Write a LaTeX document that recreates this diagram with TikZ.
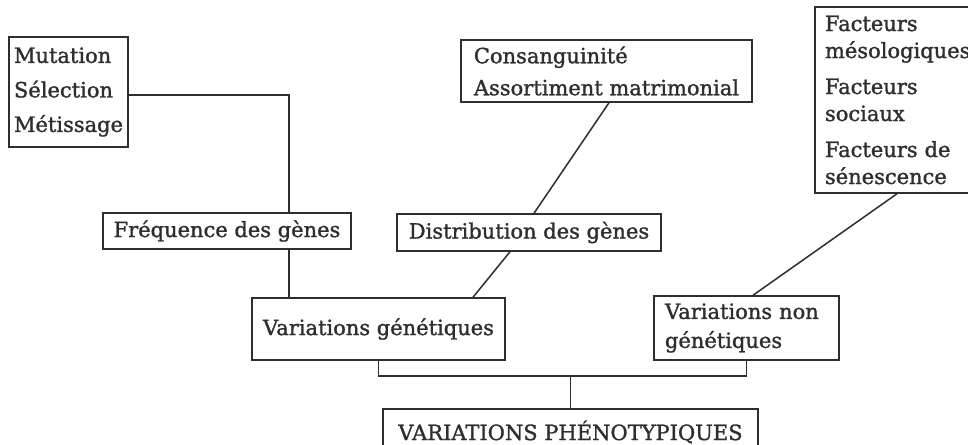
\documentclass[tikz,border=0pt]{standalone}
\usepackage{fontspec}
\setmainfont{DejaVu Serif}[AutoFakeBold=1.3]
\usetikzlibrary{calc}
\definecolor{ink}{HTML}{2E2E2E}
\begin{document}
\begin{tikzpicture}[x=1pt,y=-1pt,
  box/.style={draw=ink, line width=1.5pt, text=ink, inner sep=0pt, font=\fontsize{21}{25}\selectfont\bfseries},
  link/.style={draw=ink, line width=1.5pt}]
\useasboundingbox (0,0) rectangle (968,444);
\fill[white] (0,0) rectangle (968,444);
\clip (0,0) rectangle (968,444);

\node[box, minimum width=119pt, minimum height=110pt, align=left, font=\fontsize{21}{34.5}\selectfont\bfseries] (mut) at (68.5,92) {Mutation\\Sélection\\Métissage};
\node[box, minimum width=291pt, minimum height=62pt, align=left, font=\fontsize{21}{32}\selectfont\bfseries] (cons) at (606.5,71) {Consanguinité\\Assortiment matrimonial};
\node[box, text width=160pt, inner xsep=10pt, minimum height=186pt, align=left, font=\fontsize{21}{27}\selectfont\bfseries] (fac) at (905,100) {Facteurs\\mésologiques\\[9pt]Facteurs\\sociaux\\[9pt]Facteurs de\\sénescence};
\node[box, minimum width=248pt, minimum height=36pt] (freq) at (227,231) {Fréquence des gènes};
\node[box, minimum width=264pt, minimum height=37pt] (dist) at (529,232.5) {Distribution des gènes};
\node[box, minimum width=253pt, minimum height=62pt] (vg) at (378.5,329) {Variations génétiques};
\node[box, text width=163pt, inner xsep=11pt, minimum height=64pt, align=left, font=\fontsize{21}{29}\selectfont\bfseries] (vng) at (746.5,328) {Variations non\\génétiques};
\node[box, minimum width=375pt, minimum height=46pt] (vp) at (570.5,432) {VARIATIONS PHÉNOTYPIQUES};

\coordinate (j1) at (289,95);
\draw[link] (mut.east |- j1) -- (j1) -- (j1 |- freq.north);
\draw[link] (freq.south -| j1) -- (vg.north -| j1);
\draw[link] ($(cons.south)+(2.5,0)$) -- ($(dist.north)+(5,0)$);
\draw[link] ($(dist.south)+(-19,0)$) -- ($(vg.north)+(94.5,0)$);
\draw[link] ($(fac.south)+(-8,0)$) -- ($(vng.north)+(6.5,0)$);
\coordinate (br) at (572,376);
\draw[link] (vg.south) -- (vg.south |- br) -- (vng.south |- br) -- (vng.south);
\draw[link] (vp.north |- br) -- (vp.north);
\end{tikzpicture}
\end{document}
